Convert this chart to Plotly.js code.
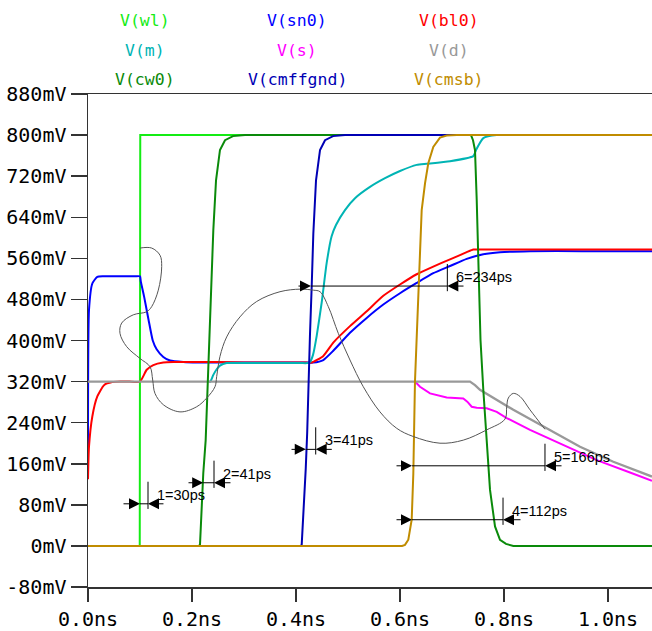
<!DOCTYPE html>
<html>
<head>
<meta charset="utf-8">
<script src="https://cdn.plot.ly/plotly-3.0.1.min.js"></script>
<style>html,body{margin:0;padding:0;background:#fff;}#chart{width:652px;height:631px;}</style>
</head>
<body>
<div id="chart"></div>
<script>
// ---- data (time in ns, voltage in mV) ----
const tWl = [0, 0.0995, 0.1005, 1.0846];
const vWl = [0, 0, 800, 800];

const tSn0 = [0, 0.0019, 0.0083, 0.0179, 0.03, 0.06, 0.09, 0.1, 0.1015, 0.108, 0.1165, 0.1245, 0.132, 0.1448, 0.1577, 0.1833, 0.21, 0.25, 0.3, 0.35, 0.4, 0.42, 0.4333, 0.4525, 0.4717, 0.5038, 0.536, 0.5679, 0.6, 0.6321, 0.664, 0.6962, 0.7283, 0.7602, 0.7923, 0.85, 0.95, 1.0846];
const vSn0 = [167, 459, 511, 524, 525, 525, 525, 525, 515, 485, 440, 400, 383, 368, 361, 358, 357, 357, 357, 357, 357, 357, 357, 362, 380, 415, 444, 470, 492, 512, 531, 545, 559, 568, 572, 574, 574, 574];

const tBl0 = [0, 0.0019, 0.0083, 0.0179, 0.0308, 0.0467, 0.062, 0.08, 0.1, 0.1129, 0.1256, 0.1448, 0.1641, 0.2, 0.25, 0.3, 0.35, 0.4, 0.42, 0.4302, 0.4525, 0.4717, 0.5038, 0.536, 0.5679, 0.6, 0.6321, 0.664, 0.6962, 0.7283, 0.741, 0.7538, 0.8, 0.9, 1.0846];
const vBl0 = [130, 193, 252, 291, 313, 319, 320, 320, 320, 343, 352, 357, 358, 358, 358, 357, 357, 357, 357, 357, 370, 396, 428, 457, 487, 509, 529, 544, 558, 572, 577, 577, 577, 577, 577];

// V(m) is hidden under V(d) before ~0.235 ns; drawn from where it is visible
const tM = [0.233, 0.2352, 0.241, 0.2475, 0.2538, 0.2667, 0.28, 0.31, 0.35, 0.39, 0.41, 0.4215, 0.4269, 0.4327, 0.4398, 0.4494, 0.459, 0.4685, 0.4769, 0.4942, 0.5135, 0.5423, 0.5712, 0.6, 0.6321, 0.6513, 0.6962, 0.741, 0.7462, 0.7602, 0.786, 0.8115, 0.9, 1.0846];
const vM = [320, 320, 333, 344, 351, 356, 356, 356, 356, 356, 356, 356, 358, 372, 409, 474, 551, 603, 625, 654, 677, 699, 716, 730, 742, 744, 749, 759, 771, 794, 800, 800, 800, 800];

// V(s) is hidden under V(d) before ~0.63 ns
const tS = [0.627, 0.6288, 0.6385, 0.6577, 0.6898, 0.7217, 0.7294, 0.7379, 0.7475, 0.7667, 0.786, 0.8052, 0.85, 0.914, 0.9783, 1.0423, 1.0846];
const vS = [320, 320, 310, 297, 289, 287, 281, 271, 269, 268, 261, 249, 226, 197, 167, 143, 127];

const tD = [0, 0.7346, 0.7442, 0.7538, 0.8179, 0.8821, 0.9462, 1.0102, 1.0846];
const vD = [320, 320, 313, 304, 265, 229, 193, 164, 135];

const tCw0 = [0, 0.2135, 0.2154, 0.2187, 0.2217, 0.2263, 0.2313, 0.236, 0.241, 0.2462, 0.2538, 0.2635, 0.2788, 0.3019, 0.7365, 0.7404, 0.7442, 0.7475, 0.7506, 0.7525, 0.7548, 0.7602, 0.7667, 0.7731, 0.7827, 0.7923, 0.8038, 0.8179, 1.0846];
const vCw0 = [0, 0, 3, 76, 142, 206, 356, 485, 615, 712, 771, 790, 798, 800, 800, 790, 771, 674, 576, 479, 401, 304, 206, 109, 38, 12, 4, 0, 0];

const tCmffgnd = [0, 0.4095, 0.411, 0.4154, 0.4187, 0.4215, 0.424, 0.4269, 0.4302, 0.4333, 0.4385, 0.4462, 0.4558, 0.4712, 0.4942, 1.0846];
const vCmffgnd = [0, 0, 3, 76, 150, 220, 330, 412, 506, 608, 712, 771, 790, 798, 800, 800];

const tCmsb = [0, 0.604, 0.6096, 0.616, 0.6225, 0.6256, 0.6288, 0.6321, 0.6352, 0.6385, 0.6417, 0.6481, 0.6544, 0.664, 0.6769, 0.6898, 0.709, 1.0846];
const vCmsb = [0, 0, 2, 12, 51, 141, 320, 410, 479, 576, 654, 706, 745, 777, 795, 799, 800, 800];

// thin free-hand curve
const tLoop = [0.1, 0.1225, 0.1385, 0.1417, 0.1352, 0.1225, 0.1129, 0.0871, 0.0648, 0.0615, 0.0744, 0.1, 0.1192, 0.1244, 0.1288, 0.1448, 0.1769, 0.209, 0.2283, 0.2442, 0.2475, 0.2538, 0.2667, 0.2923, 0.3244, 0.3692, 0.4077, 0.4333, 0.4462, 0.4621, 0.4813, 0.5038, 0.5294, 0.5615, 0.5937, 0.6256, 0.6769, 0.7217, 0.7667, 0.8019, 0.8052, 0.8083, 0.8179, 0.8308, 0.85, 0.8788];
const vLoop = [580, 580, 566, 544, 498, 466, 456, 450, 434, 414, 388, 365, 349, 323, 297, 275, 261, 271, 288, 310, 330, 369, 407, 446, 476, 495, 500, 498, 495, 466, 414, 362, 310, 261, 229, 213, 200, 206, 226, 247, 271, 288, 297, 291, 265, 227];

// measurement cursors
const mLabel = ['1=30ps', '2=41ps', '3=41ps', '4=112ps', '5=166ps', '6=234ps'];
const mY = [82, 123, 188, 51, 156, 506];
const mTail = [0.0654, 0.1904, 0.3885, 0.5904, 0.5904, 0.4019];
const mHead = [0.1, 0.2215, 0.4187, 0.6231, 0.6231, 0.4288];
const mBar = [0.1154, 0.2423, 0.4379, 0.7981, 0.8788, 0.691];
const mRightTail = [0.148, 0.2769, 0.4717, 0.8346, 0.9135, 0.725];

// ticks
const xTickVals = [0, 0.2, 0.4, 0.6, 0.8, 1.0];
const xTickText = ['0.0ns', '0.2ns', '0.4ns', '0.6ns', '0.8ns', '1.0ns'];
const yTickVals = [-80, 0, 80, 160, 240, 320, 400, 480, 560, 640, 720, 800, 880];
const yTickText = ['-80mV', '0mV', '80mV', '160mV', '240mV', '320mV', '400mV', '480mV', '560mV', '640mV', '720mV', '800mV', '880mV'];

// legend labels (3 rows x 3 columns)
const legendNames = ['V(wl)', 'V(sn0)', 'V(bl0)', 'V(m)', 'V(s)', 'V(d)', 'V(cw0)', 'V(cmffgnd)', 'V(cmsb)'];

// ---- styling ----
const colors = {
  wl: '#14ec14', sn0: '#0000ff', bl0: '#ff0000', m: '#00b4b4', s: '#ff00ff',
  d: '#999999', cw0: '#0a8a0a', cmffgnd: '#0000b4', cmsb: '#c08c00'
};
const legendColors = [colors.wl, colors.sn0, colors.bl0, colors.m, colors.s, colors.d, colors.cw0, colors.cmffgnd, colors.cmsb];

function tr(x, y, color, shape, width) {
  return {x: x, y: y, type: 'scatter', mode: 'lines', hoverinfo: 'skip',
    line: {color: color, width: width || 2, shape: shape || 'linear', smoothing: 0.5}};
}

const traces = [
  tr(tWl, vWl, colors.wl),
  tr(tSn0, vSn0, colors.sn0, 'spline'),
  tr(tBl0, vBl0, colors.bl0, 'spline'),
  tr(tM, vM, colors.m, 'spline'),
  tr(tS, vS, colors.s),
  tr(tD, vD, colors.d, 'linear', 2.3),
  tr(tCw0, vCw0, colors.cw0),
  tr(tCmffgnd, vCmffgnd, colors.cmffgnd),
  tr(tCmsb, vCmsb, colors.cmsb),
  {x: tLoop, y: vLoop, type: 'scatter', mode: 'lines', hoverinfo: 'skip',
   line: {color: '#555555', width: 1, shape: 'spline', smoothing: 1}}
];

const shapes = [];
const annotations = [];
const mono = 'DejaVu Sans Mono, monospace';

for (let i = 0; i < mLabel.length; i++) {
  shapes.push({type: 'line', xref: 'x', yref: 'y', x0: mHead[i], x1: mBar[i], y0: mY[i], y1: mY[i],
    line: {color: '#000', width: 1}});
  shapes.push({type: 'line', xref: 'x', yref: 'y', x0: mBar[i], x1: mBar[i], y0: mY[i] - 10, y1: mY[i] + 43,
    line: {color: '#000', width: 1}});
  annotations.push({x: mHead[i], y: mY[i], ax: mTail[i], ay: mY[i], xref: 'x', yref: 'y', axref: 'x', ayref: 'y',
    text: '', showarrow: true, arrowhead: 2, arrowsize: 2.2, arrowwidth: 1, arrowcolor: '#000', standoff: 0});
  annotations.push({x: mBar[i], y: mY[i], ax: mRightTail[i], ay: mY[i], xref: 'x', yref: 'y', axref: 'x', ayref: 'y',
    text: '', showarrow: true, arrowhead: 2, arrowsize: 2.2, arrowwidth: 1, arrowcolor: '#000', standoff: 0});
  annotations.push({x: mBar[i], y: mY[i], xref: 'x', yref: 'y', text: mLabel[i], showarrow: false,
    xanchor: 'left', yanchor: 'middle', xshift: 7, yshift: 9,
    font: {family: 'Liberation Sans, Arial, sans-serif', size: 14.5, color: '#000'}});
}

const legX = [0.1011, 0.3706, 0.6401];
const legY = [1.1501, 1.0882, 1.0284];
for (let i = 0; i < legendNames.length; i++) {
  annotations.push({xref: 'paper', yref: 'paper', x: legX[i % 3], y: legY[Math.floor(i / 3)],
    text: legendNames[i], showarrow: false, xanchor: 'center', yanchor: 'middle',
    font: {family: mono, size: 16.5, color: legendColors[i]}});
}

const layout = {
  width: 652, height: 631,
  margin: {l: 88, r: 0, t: 94, b: 44, pad: 0},
  paper_bgcolor: '#ffffff', plot_bgcolor: '#ffffff',
  showlegend: false,
  xaxis: {
    range: [0, 1.0846], tickvals: xTickVals, ticktext: xTickText,
    showgrid: false, zeroline: false, showline: true, mirror: true,
    linecolor: '#333', linewidth: 1.5,
    ticks: 'outside', ticklen: 13, tickwidth: 1.5, tickcolor: '#333',
    tickfont: {family: mono, size: 20, color: '#000'}
  },
  yaxis: {
    range: [-80, 880], tickvals: yTickVals, ticktext: yTickText,
    showgrid: false, zeroline: false, showline: true, mirror: false,
    linecolor: '#333', linewidth: 1.5,
    ticks: 'outside', ticklen: 16, tickwidth: 1.5, tickcolor: '#333',
    tickfont: {family: mono, size: 20, color: '#000'}
  },
  shapes: shapes,
  annotations: annotations
};

Plotly.newPlot('chart', traces, layout, {staticPlot: true, displayModeBar: false});
</script>
</body>
</html>
